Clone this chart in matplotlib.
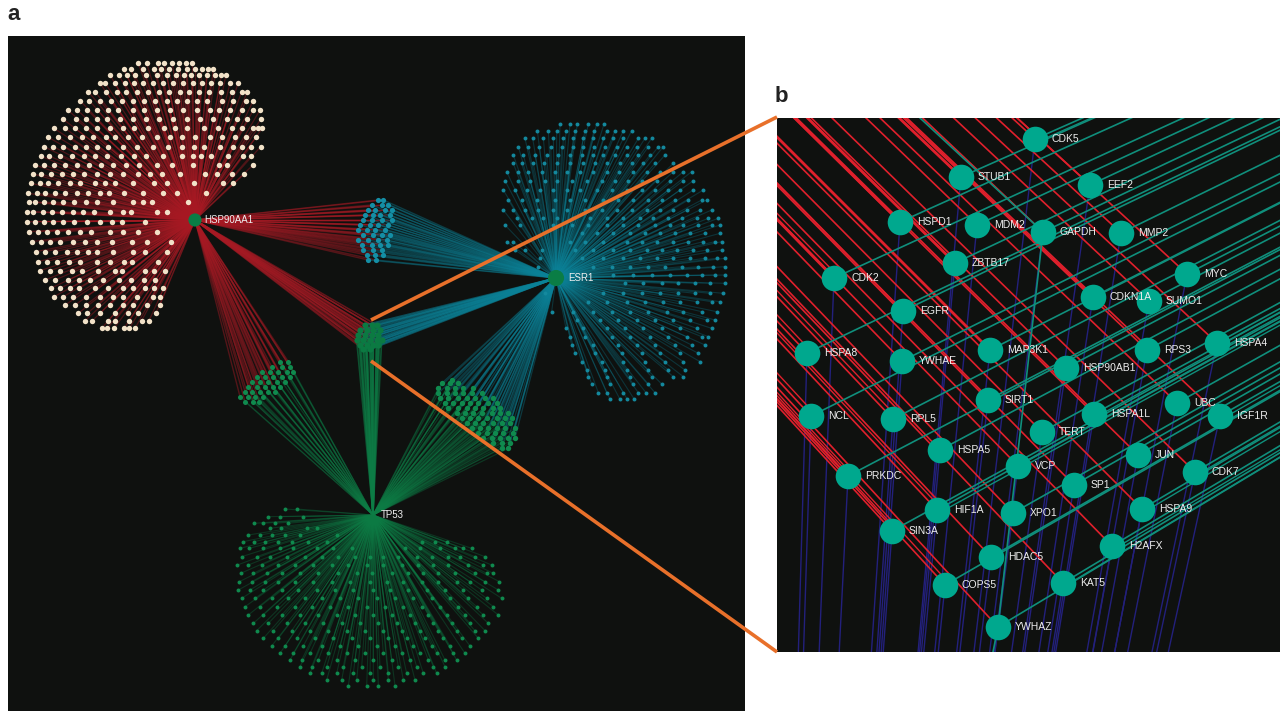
import numpy as np
import matplotlib
matplotlib.use('Agg')
import matplotlib.pyplot as plt
from matplotlib.collections import LineCollection
from matplotlib.patches import Rectangle

plt.rcParams['font.family'] = ['Liberation Sans', 'DejaVu Sans']

RED_FAN = [
    (100, [415, 440, 473, 493, 517, 538, 557, 577]),
    (118, [372, 392, 428, 462, 483, 507, 533, 561, 585, 605, 623, 640]),
    (135, [330, 357, 380, 405, 437, 470, 500, 528, 552, 574, 598, 620, 645, 664, 678]),
    (160, [300, 316, 345, 375, 402, 428, 460, 490, 520, 550, 578, 605, 632, 660, 690, 714]),
    (185, [265, 285, 318, 350, 378, 412, 445, 478, 508, 540, 568, 598, 628, 662, 695, 725, 742]),
    (212, [240, 268, 300, 332, 365, 398, 432, 466, 500, 532, 562, 592, 622, 665, 700, 738, 760]),
    (240, [203, 232, 262, 292, 325, 355, 398, 432, 470, 510, 548, 590, 630, 658, 690, 725, 760, 780]),
    (268, [190, 228, 258, 290, 322, 360, 398, 438, 478, 520, 562, 600, 640, 680, 712, 742, 782]),
    (295, [162, 195, 225, 258, 290, 330, 368, 402, 445, 492, 525, 560, 612, 655, 695, 725, 758, 773, 787]),
    (322, [145, 175, 210, 245, 280, 318, 346, 385, 425, 470, 510, 545, 585, 630, 665, 705, 738, 768]),
    (350, [132, 160, 190, 225, 258, 292, 325, 368, 412, 460, 505, 545, 582, 612, 660, 700, 725, 752, 782]),
    (378, [122, 148, 180, 215, 252, 285, 320, 362, 402, 438, 490, 547, 578, 603, 632, 685, 728, 752]),
    (405, [105, 132, 162, 195, 232, 268, 303, 340, 378, 418, 470, 516, 580, 657, 682, 759]),
    (432, [100, 122, 152, 185, 218, 252, 290, 330, 370, 415, 450, 485, 540, 614, 650, 697, 733]),
    (460, [93, 120, 145, 175, 210, 240, 285, 315, 345, 400, 463, 500, 582, 670, 698]),
    (490, [85, 110, 135, 165, 195, 232, 265, 300, 328, 372, 430, 490, 532, 618]),
    (515, [88, 105, 132, 160, 188, 222, 258, 292, 340, 398, 430, 457, 563]),
    (545, [80, 100, 128, 155, 185, 218, 250, 282, 330, 368, 392, 470, 500]),
    (575, [82, 105, 132, 160, 190, 222, 262, 300, 335, 365, 435]),
    (605, [88, 115, 142, 170, 205, 240, 272, 330, 368, 415, 472]),
    (635, [95, 122, 150, 180, 218, 255, 290, 335, 395, 440, 512]),
    (665, [108, 135, 165, 200, 232, 265, 292, 340, 400, 435, 500]),
    (695, [115, 140, 172, 208, 240, 290, 330, 372, 395, 475]),
    (722, [120, 150, 180, 215, 245, 295, 345, 365, 435, 462, 495]),
    (750, [135, 165, 205, 238, 270, 308, 358, 392, 432, 465]),
    (775, [152, 180, 210, 238, 285, 325, 368, 400, 435, 462, 488]),
    (800, [162, 190, 220, 258, 300, 340, 370, 412, 458, 480]),
    (825, [195, 225, 258, 295, 330, 370, 398, 440, 480]),
    (850, [235, 262, 300, 345, 385, 415, 468]),
    (872, [255, 277, 325, 345, 388, 425, 447]),
    (895, [305, 322, 342, 372, 388, 405]),
]
TEAL_FAN = [
    (42, [660, 690, 712, 745, 770, 792]),
    (62, [592, 625, 650, 678, 705, 735, 762, 800, 825, 850, 875]),
    (85, [555, 578, 610, 640, 670, 700, 730, 760, 790, 820, 850, 895, 915, 935]),
    (110, [535, 565, 598, 632, 665, 698, 730, 762, 795, 830, 860, 890, 925, 955, 970]),
    (135, [520, 550, 585, 620, 655, 690, 725, 758, 790, 825, 860, 895, 930, 975]),
    (160, [520, 545, 580, 612, 650, 690, 728, 765, 800, 840, 875, 910, 945, 1000]),
    (185, [500, 535, 565, 605, 645, 680, 720, 760, 800, 838, 880, 920, 960, 1000, 1030, 1055]),
    (212, [495, 535, 570, 615, 650, 695, 740, 785, 825, 865, 905, 950, 990, 1030, 1060]),
    (240, [490, 525, 560, 600, 640, 680, 720, 770, 815, 860, 905, 945, 985, 1020, 1060, 1090]),
    (270, [505, 545, 590, 645, 690, 735, 790, 835, 880, 925, 965, 1005, 1045, 1085, 1100]),
    (300, [490, 520, 555, 595, 640, 680, 735, 785, 830, 875, 920, 960, 1000, 1040, 1080, 1115]),
    (325, [530, 575, 610, 650, 700, 750, 800, 850, 900, 940, 985, 1025, 1070, 1105, 1135]),
    (345, [495, 540, 640, 695, 745, 800, 850, 895, 945, 990, 1030, 1075, 1115, 1140]),
    (370, [725, 770, 820, 870, 915, 960, 1005, 1050, 1095, 1140]),
    (395, [500, 520, 690, 735, 790, 860, 905, 950, 1000, 1045, 1090, 1125, 1145]),
    (420, [525, 555, 605, 705, 760, 820, 870, 920, 965, 1010, 1060, 1100, 1145]),
    (445, [600, 725, 790, 850, 900, 950, 1000, 1050, 1095, 1130, 1155]),
    (470, [595, 760, 815, 870, 925, 975, 1025, 1075, 1120, 1155]),
    (495, [820, 880, 935, 990, 1040, 1085, 1125, 1155]),
    (520, [855, 910, 965, 1015, 1065, 1110, 1155]),
    (550, [615, 790, 850, 905, 960, 1015, 1065, 1110, 1150]),
    (575, [745, 800, 860, 915, 970, 1020, 1070, 1115, 1140]),
    (605, [635, 700, 760, 815, 870, 925, 980, 1030, 1085, 1130]),
    (630, [710, 780, 835, 890, 945, 1000, 1050, 1100, 1125]),
    (655, [678, 730, 800, 855, 910, 965, 1020, 1070, 1115]),
    (680, [690, 735, 815, 870, 930, 985, 1040, 1085, 1105]),
    (705, [695, 760, 835, 890, 945, 1005, 1055, 1095]),
    (730, [705, 765, 845, 905, 960, 1020, 1075]),
    (755, [725, 785, 850, 915, 975, 1030, 1080]),
    (780, [740, 795, 860, 925, 985, 1035]),
    (800, [745, 800, 870, 935, 1000, 1030]),
    (822, [755, 810, 880, 925, 965]),
    (848, [775, 800, 850, 895, 918, 945]),
    (868, [810, 840, 862, 883]),
]
GREEN_FAN = [
    (507, [225, 260]),
    (530, [175, 210, 280]),
    (550, [132, 160, 195, 235]),
    (565, [180, 212, 290, 320]),
    (585, [115, 150, 185, 225, 270, 380]),
    (605, [100, 132, 165, 205, 245, 295, 350, 635, 675, 710]),
    (625, [90, 118, 160, 210, 250, 320, 370, 425, 585, 630, 690, 735, 760, 785]),
    (650, [95, 140, 180, 230, 285, 335, 385, 435, 480, 520, 565, 620, 665, 715, 750, 795, 825]),
    (675, [82, 115, 155, 205, 255, 310, 365, 415, 470, 520, 575, 625, 670, 715, 775, 820, 845]),
    (700, [92, 130, 170, 215, 270, 325, 385, 440, 485, 545, 595, 640, 685, 735, 795, 830, 850]),
    (725, [88, 125, 165, 205, 255, 310, 365, 420, 480, 530, 580, 635, 685, 740, 780, 825, 868]),
    (750, [85, 120, 160, 215, 265, 320, 375, 430, 490, 540, 595, 650, 705, 760, 815, 865]),
    (775, [95, 135, 185, 235, 285, 335, 390, 445, 500, 555, 610, 665, 720, 775, 830, 875]),
    (800, [105, 150, 200, 255, 305, 360, 415, 470, 525, 580, 635, 690, 745, 800, 850]),
    (825, [115, 160, 215, 270, 325, 380, 435, 490, 545, 600, 655, 710, 765, 820, 865]),
    (850, [130, 175, 230, 285, 340, 395, 450, 505, 560, 615, 670, 725, 780, 835]),
    (872, [140, 190, 245, 300, 355, 410, 465, 520, 575, 630, 685, 740, 795, 825]),
    (895, [160, 205, 260, 315, 370, 425, 480, 535, 590, 645, 700, 755, 805]),
    (918, [185, 225, 280, 335, 390, 445, 500, 555, 610, 665, 720, 780]),
    (940, [210, 250, 300, 355, 410, 465, 520, 575, 630, 680, 730, 765]),
    (960, [240, 275, 325, 380, 435, 490, 545, 600, 655, 705, 740]),
    (980, [270, 305, 350, 400, 455, 510, 565, 620, 670, 705]),
    (1000, [300, 335, 380, 430, 480, 535, 590, 640, 680]),
    (1020, [350, 395, 440, 490, 535, 580, 615]),
    (1037, [415, 470, 505, 555]),
]
# shared clusters
BLUE_CLUSTER = [
    (270, [115, 130]), (285, [95, 125, 145]), (300, [85, 105, 135, 155]),
    (315, [75, 100, 120, 150]), (330, [70, 95, 125, 155]), (345, [60, 90, 115, 145]),
    (360, [55, 80, 105, 135]), (375, [70, 100, 125, 150]), (390, [55, 85, 115, 140]),
    (405, [65, 95, 120, 145]), (420, [70, 100, 125]), (435, [80, 105, 130]), (450, [85, 108]),
]
LEFT_CLUSTER = [
    (65, [210, 235]), (80, [185, 215, 240]), (95, [155, 180, 205, 230, 250]),
    (110, [140, 165, 190, 215, 240]), (125, [125, 150, 175, 200, 225]),
    (140, [115, 140, 165, 190, 210]), (155, [105, 125, 150, 175, 195]),
    (170, [90, 115, 135, 160]), (185, [105, 130, 148]),
]
RIGHT_CLUSTER = [
    (120, [725]), (130, [695, 720, 745]), (145, [685, 710, 735, 760, 790]),
    (160, [685, 710, 735, 760, 785, 815]), (175, [690, 715, 745, 770, 795, 825, 850]),
    (190, [705, 730, 755, 780, 805, 835, 860]), (205, [715, 745, 770, 795, 820, 850, 870]),
    (220, [740, 765, 790, 815, 845, 870, 895]), (235, [755, 780, 805, 830, 860, 885, 905]),
    (250, [770, 795, 820, 850, 875, 900]), (265, [785, 810, 835, 860, 885, 915]),
    (280, [805, 830, 855, 880, 910]), (295, [820, 845, 870, 895, 915]),
    (310, [850, 875, 900]), (325, [875, 895]),
]
CENTER_CLUSTER = [
    (645, [75, 95, 110]), (660, [60, 80, 100, 120]), (675, [55, 75, 95, 115]),
    (690, [50, 70, 90, 110, 125]), (705, [60, 80, 100, 115]), (718, [70, 90]),
]

hub_names = ['HSP90AA1', 'ESR1', 'TP53']
hub_x = [195, 556, 373]
hub_y = [220, 278, 515]

genes = ['CDK5', 'STUB1', 'EEF2', 'HSPD1', 'MDM2', 'GAPDH', 'MMP2', 'ZBTB17', 'MYC', 'CDK2',
         'CDKN1A', 'SUMO1', 'EGFR', 'HSPA4', 'MAP3K1', 'RPS3', 'HSPA8', 'YWHAE', 'HSP90AB1',
         'SIRT1', 'UBC', 'NCL', 'RPL5', 'HSPA1L', 'IGF1R', 'TERT', 'HSPA5', 'JUN', 'VCP',
         'CDK7', 'PRKDC', 'SP1', 'HIF1A', 'XPO1', 'HSPA9', 'SIN3A', 'HDAC5', 'H2AFX',
         'COPS5', 'KAT5', 'YWHAZ']
gene_x = [1035, 961, 1090, 900, 977, 1043, 1121, 955, 1187, 834,
          1093, 1149, 903, 1217, 990, 1147, 807, 902, 1066,
          988, 1177, 811, 893, 1094, 1220, 1042, 940, 1138, 1018,
          1195, 848, 1074, 937, 1013, 1142, 892, 991, 1112,
          945, 1063, 998]
gene_y = [139, 177, 185, 222, 225, 232, 233, 263, 274, 278,
          297, 301, 311, 343, 350, 350, 353, 361, 368,
          400, 403, 416, 419, 414, 416, 432, 450, 455, 466,
          472, 476, 485, 510, 513, 509, 531, 557, 546,
          585, 583, 627]
thick_red = ['STUB1', 'HSPD1', 'ZBTB17', 'MAP3K1', 'CDK2']
double_red = ['NCL', 'PRKDC', 'SIN3A', 'RPL5', 'HSPA8', 'HIF1A', 'CDK2', 'COPS5']
double_teal = ['KAT5', 'H2AFX', 'HSPA9', 'CDK7', 'IGF1R', 'HSPA4', 'HSPA1L', 'HIF1A', 'CDK5']

# where the b panel edges would meet if extended
red_far = (-2180, -2820)
teal_far = (3960, -1155)
navy_far = (742, 2600)

BG = '#0f110f'
RED = '#a81a24'
TEAL = '#0a8298'
GREEN = '#0c7d46'
B_RED = '#e0202c'
B_TEAL = '#0f8f7c'
B_NAVY = '#23207c'


def rows_to_xy(rows, ox, oy):
    # crop pixels are 3x the reference
    x = [ox + v / 3 for y, xs in rows for v in xs]
    y = [oy + y / 3 for y, xs in rows for v in xs]
    return np.array(x), np.array(y)


def spokes(ax, hub, x, y, color, alpha=0.3, lw=0.7):
    segs = [[hub, (a, b)] for a, b in zip(x, y)]
    ax.add_collection(LineCollection(segs, colors=color, alpha=alpha, linewidths=lw, zorder=2))


def b_edges(ax, clip, far, names, color, lw, shift=(0, 0)):
    for name in names:
        i = genes.index(name)
        ln, = ax.plot([gene_x[i] + shift[0], far[0] + shift[0]], [gene_y[i] + shift[1], far[1] + shift[1]],
                      color=color, lw=lw, zorder=2, scalex=False, scaley=False)
        ln.set_clip_path(clip)


fig = plt.figure(figsize=(12.8, 7.11), dpi=100, facecolor='white')
ax = fig.add_axes([0, 0, 1, 1])
ax.set_xlim(0, 1280)
ax.set_ylim(711, 0)
ax.axis('off')

# panel a
ax.add_patch(Rectangle((8, 36), 737, 675, facecolor=BG, edgecolor='none', zorder=1))

red_x, red_y = rows_to_xy(RED_FAN, 0, 30)
teal_x, teal_y = rows_to_xy(TEAL_FAN, 340, 110)
green_x, green_y = rows_to_xy(GREEN_FAN, 210, 340)
blue_x, blue_y = rows_to_xy(BLUE_CLUSTER, 340, 110)
left_x, left_y = rows_to_xy(LEFT_CLUSTER, 210, 340)
right_x, right_y = rows_to_xy(RIGHT_CLUSTER, 210, 340)
cen_x, cen_y = rows_to_xy(CENTER_CLUSTER, 340, 110)

red_hub = (hub_x[0], hub_y[0])
esr_hub = (hub_x[1], hub_y[1])
tp_hub = (hub_x[2], hub_y[2])

spokes(ax, red_hub, red_x, red_y, RED, 0.4, 0.9)
spokes(ax, red_hub, blue_x, blue_y, RED, 0.45, 1.0)
spokes(ax, red_hub, cen_x, cen_y, RED, 0.55, 1.1)
spokes(ax, red_hub, left_x, left_y, RED, 0.45, 1.0)
spokes(ax, esr_hub, teal_x, teal_y, TEAL, 0.3, 0.8)
spokes(ax, esr_hub, blue_x, blue_y, TEAL, 0.4, 1.0)
spokes(ax, esr_hub, cen_x, cen_y, TEAL, 0.55, 1.2)
spokes(ax, esr_hub, right_x, right_y, TEAL, 0.35, 0.9)
spokes(ax, tp_hub, green_x, green_y, GREEN, 0.32, 0.8)
spokes(ax, tp_hub, left_x, left_y, GREEN, 0.35, 0.9)
spokes(ax, tp_hub, right_x, right_y, GREEN, 0.35, 0.9)
spokes(ax, tp_hub, cen_x, cen_y, GREEN, 0.6, 1.2)

ax.scatter(red_x, red_y, s=15, color='#f2e2c8', linewidths=0, zorder=3)
ax.scatter(teal_x, teal_y, s=8, color='#14899e', linewidths=0, zorder=3)
ax.scatter(green_x, green_y, s=8, color='#0f8a4e', linewidths=0, zorder=3)
ax.scatter(blue_x, blue_y, s=14, color='#148fa6', linewidths=0, zorder=3)
ax.scatter(left_x, left_y, s=13, color='#0f8a4e', linewidths=0, zorder=3)
ax.scatter(right_x, right_y, s=15, color='#0f8a4e', linewidths=0, zorder=3)
ax.scatter(cen_x, cen_y, s=20, color='#0b7a42', linewidths=0, zorder=3)

ax.scatter(hub_x[:2], hub_y[:2], s=[90, 135], color='#0a7d45', linewidths=0, zorder=4)
for name, x, y, dx in zip(hub_names, hub_x, hub_y, [9, 12, 8]):
    ax.text(x + dx, y, name, color='#f0f0f0', fontsize=7, va='center', zorder=5)

# panel b
panel_b = Rectangle((777, 118), 503, 534, facecolor=BG, edgecolor='none', zorder=1)
ax.add_patch(panel_b)

b_edges(ax, panel_b, navy_far, genes, B_NAVY, 1.0)
b_edges(ax, panel_b, red_far, genes, B_RED, 1.2)
b_edges(ax, panel_b, red_far, thick_red, B_RED, 2.0)
b_edges(ax, panel_b, red_far, double_red, B_RED, 1.0, (3, -3))
b_edges(ax, panel_b, teal_far, genes, B_TEAL, 1.2)
b_edges(ax, panel_b, teal_far, double_teal, B_TEAL, 1.0, (2, 3))

# GAPDH has two extra teal edges
gapdh = genes.index('GAPDH')
ywhaz = genes.index('YWHAZ')
ln, = ax.plot([gene_x[gapdh], gene_x[ywhaz], 993], [gene_y[gapdh], gene_y[ywhaz], 652], color=B_TEAL, lw=1.2, zorder=2)
ln.set_clip_path(panel_b)
ln, = ax.plot([gene_x[gapdh], 920], [gene_y[gapdh], 118], color=B_TEAL, lw=1.2, zorder=2)
ln.set_clip_path(panel_b)

ax.scatter(gene_x, gene_y, s=340, color='#00a88e', linewidths=0, zorder=4)
for name, x, y in zip(genes, gene_x, gene_y):
    ax.text(x + 17, y, name, color='#eeeeee', fontsize=7.5, va='center', zorder=5)

# orange zoom connectors
ax.plot([371, 777], [320, 117], color='#e8702a', lw=2.6, zorder=6, solid_capstyle='butt')
ax.plot([371, 777], [361, 652], color='#e8702a', lw=2.6, zorder=6, solid_capstyle='butt')

ax.text(7, 15, 'a', fontsize=16, fontweight='bold', color='#222222', va='center')
ax.text(775, 96, 'b', fontsize=16, fontweight='bold', color='#222222', va='center')

fig.savefig('out.png', dpi=100, facecolor='white')
